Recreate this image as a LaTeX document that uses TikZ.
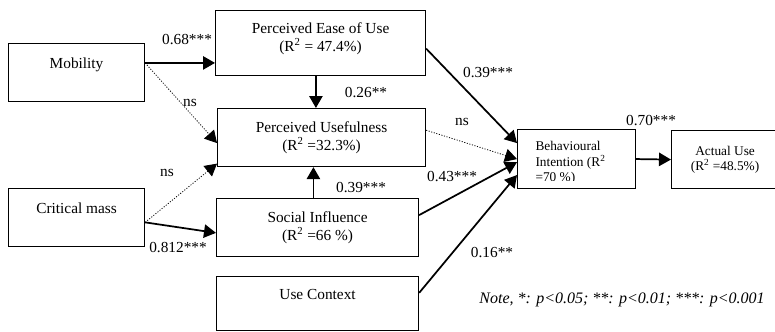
\documentclass[tikz,border=0pt]{standalone}
\usepackage{fontspec}
\setmainfont{Liberation Serif}
\usetikzlibrary{arrows.meta}

\tikzset{every picture/.style={line width=0.75pt}}
\tikzset{
  box/.style={draw, line width=0.85pt, rectangle, inner sep=0pt, align=center, anchor=north west, font=\fontsize{11.5}{13.5}\selectfont},
  smallbox/.style={box, font=\fontsize{10}{11.5}\selectfont},
  coef/.style={inner sep=0.75pt, font=\fontsize{11.5}{13.5}\selectfont},
  sigarrow/.style={-{Triangle[length=9pt,width=10pt]}, line width=1.3pt},
  nsarrow/.style={-{Triangle[length=9pt,width=10pt]}, line width=0.6pt, dash pattern=on 0.8pt off 1.2pt},
}

\begin{document}
\begin{tikzpicture}[x=0.75pt,y=0.75pt,yscale=-1,xscale=1]
\useasboundingbox (0,0) rectangle (775,332); %set diagram size to 775 x 332

%Shape: Rectangle
\draw (8,43) node [box, minimum width=102pt, minimum height=43.5pt] (mob) {Mobility\\\mbox{}};
%Shape: Rectangle
\draw (8,188) node [box, minimum width=102pt, minimum height=43.5pt] (cm) {Critical mass\\\mbox{}};
%Shape: Rectangle
\draw (215,10) node [box, minimum width=157.5pt, minimum height=48.75pt, text depth=9.5pt] (peou) {Perceived Ease of Use\\(R\textsuperscript{2}~= 47.4\%)};
%Shape: Rectangle
\draw (217,108) node [box, minimum width=156pt, minimum height=43.5pt] (pu) {Perceived Usefulness\\(R\textsuperscript{2}~=32.3\%)};
%Shape: Rectangle
\draw (216,198) node [box, minimum width=151.5pt, minimum height=43.5pt] (si) {Social Influence\\(R\textsuperscript{2}~=66 \%)};
%Shape: Rectangle
\draw (216,276) node [box, minimum width=151.5pt, minimum height=40.5pt] (uc) {Use Context\\\mbox{}};
%Shape: Rectangle
\draw (517,129) node [smallbox, minimum width=88.5pt, minimum height=44.25pt] (bi) {};
%Shape: Rectangle
\draw (671,130) node [smallbox, minimum width=80.25pt, minimum height=43.5pt] (au) {Actual Use\\(R\textsuperscript{2}~=48.5\%)};

% Text Node (cut off by the box)
\begin{scope}
\clip (518,130) rectangle (634,180);
\draw (535,141) node [anchor=north west, inner sep=0pt, align=left, font=\fontsize{10}{11.6}\selectfont] (bitext) {Behavioural\\Intention (R\textsuperscript{2}\\=70 \%)};
\end{scope}

%Straight Lines
\draw [sigarrow] (mob.8) -- (mob.8 -| peou.west);
\draw [nsarrow] (mob.8) -- (pu.183);
\draw [sigarrow] (peou.262) -- (peou.262 |- pu.north);
\draw [sigarrow] (si.98) -- (si.98 |- pu.south);
\draw [nsarrow] (cm.356) -- (pu.194);
\draw [sigarrow] (cm.356) -- (si.183);
\draw [sigarrow] (peou.357) -- (bi.165);
\draw [nsarrow] (pu.4) -- (bi.180);
\draw [sigarrow] (si.7) -- (bi.183);
\draw [sigarrow] (uc.6) -- (bi.195);
\draw [sigarrow] (bi.east) -- (au.west);

% Text Node
\draw (187,40) node [coef] (c68) {0.68***};
% Text Node
\draw (190,103) node [coef] (ns1) {ns};
% Text Node
\draw (366,93) node [coef] (c26) {0.26**};
% Text Node
\draw (167,173) node [coef] (ns2) {ns};
% Text Node
\draw (178,248) node [coef] (c812) {0.812***};
% Text Node
\draw (361,188) node [coef] (c39a) {0.39***};
% Text Node
\draw (488,73) node [coef] (c39b) {0.39***};
% Text Node
\draw (462,122) node [coef] (ns3) {ns};
% Text Node
\draw (452,177) node [coef] (c43) {0.43***};
% Text Node
\draw (651,121) node [coef] (c70) {0.70***};
% Text Node
\draw (492,253) node [coef] (c16) {0.16**};
% Text Node
\draw (622,300) node [coef, font=\fontsize{12}{14}\selectfont] (note) {\textit{Note, *: p<0.05; **: p<0.01; ***: p<0.001}};

\end{tikzpicture}
\end{document}
